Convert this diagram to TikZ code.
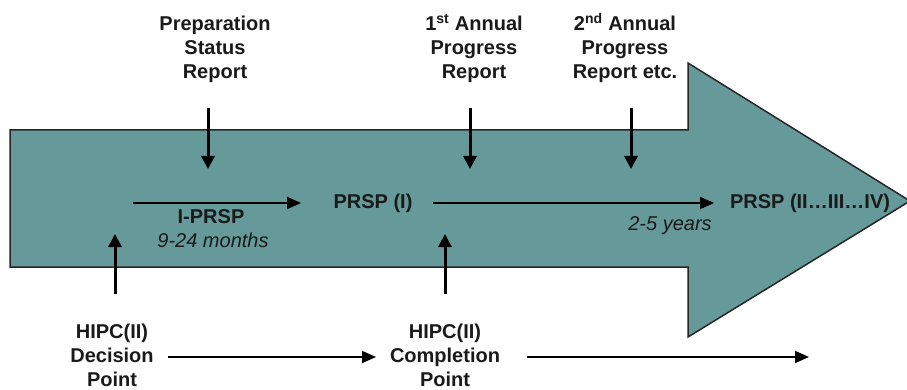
\documentclass[tikz,border=0pt]{standalone}
\usepackage{fontspec}
\setmainfont{Liberation Sans}
\usetikzlibrary{arrows.meta}
\definecolor{teal0}{HTML}{669999}
\definecolor{ink}{HTML}{1A1A1A}
\begin{document}
\begin{tikzpicture}[x=1pt,y=-1pt,
  lbl/.style={font=\fontsize{20}{24}\selectfont\bfseries, align=center, text=ink, inner sep=0pt, anchor=north},
  note/.style={font=\fontsize{20}{24}\selectfont\itshape, text=ink, inner sep=0pt, anchor=base},
  plain/.style={font=\fontsize{20}{24}\selectfont\bfseries, text=ink, inner sep=0pt, anchor=base},
  vflow/.style={draw=black, line width=3pt, -{Triangle[length=13pt,width=13pt]}},
  hflow/.style={draw=black, line width=1.8pt, -{Triangle[length=14pt,width=12pt]}},
  bigarrow/.style={fill=teal0, draw=black!85, line width=1.5pt, line join=miter}]
\useasboundingbox (0,0) rectangle (907,390);
% big arrow
\path[bigarrow] (10,130) -- (688,130) -- (688,63) -- (910,201) -- (688,337) -- (688,267) -- (10,267) -- cycle;
% top labels
\node[lbl] (prep) at (215,16) {Preparation\\Status\\Report};
\node[lbl] (ann1) at (474,16) {1\smash{\textsuperscript{st}} Annual\\Progress\\Report};
\node[lbl] (ann2) at (625,16) {2\smash{\textsuperscript{nd}} Annual\\Progress\\Report etc.};
% down arrows
\coordinate (d1s) at (208,108); \coordinate (d1e) at (208,169);
\coordinate (d2s) at (470,108); \coordinate (d2e) at (470,169);
\coordinate (d3s) at (631,108); \coordinate (d3e) at (631,169);
\draw[vflow] (d1s) -- (d1e);
\draw[vflow] (d2s) -- (d2e);
\draw[vflow] (d3s) -- (d3e);
% inside texts
\node[plain] (prsp1) at (373,208) {PRSP (I)};
\node[plain] (iprsp) at (211,223) {I-PRSP};
\node[note] (months) at (213,247) {9-24 months};
\node[plain] (prspn) at (810,208) {PRSP (II\dots III\dots IV)};
\node[note] (years) at (670,230) {2-5 years};
% horizontal arrows inside
\coordinate (h1s) at (133,203); \coordinate (h1e) at (301,203);
\coordinate (h2s) at (433,203); \coordinate (h2e) at (714,203);
\draw[hflow] (h1s) -- (h1e);
\draw[hflow] (h2s) -- (h2e);
% up arrows
\coordinate (u1s) at (115,294); \coordinate (u1e) at (115,234);
\coordinate (u2s) at (445,294); \coordinate (u2e) at (445,234);
\draw[vflow] (u1s) -- (u1e);
\draw[vflow] (u2s) -- (u2e);
% bottom labels
\node[lbl] (dec) at (112,324) {HIPC(II)\\Decision\\Point};
\node[lbl] (comp) at (445,324) {HIPC(II)\\Completion\\Point};
\coordinate (b1s) at (168,357); \coordinate (b1e) at (376,357);
\coordinate (b2s) at (527,357); \coordinate (b2e) at (809,357);
\draw[hflow] (b1s) -- (b1e);
\draw[hflow] (b2s) -- (b2e);
\end{tikzpicture}
\end{document}
